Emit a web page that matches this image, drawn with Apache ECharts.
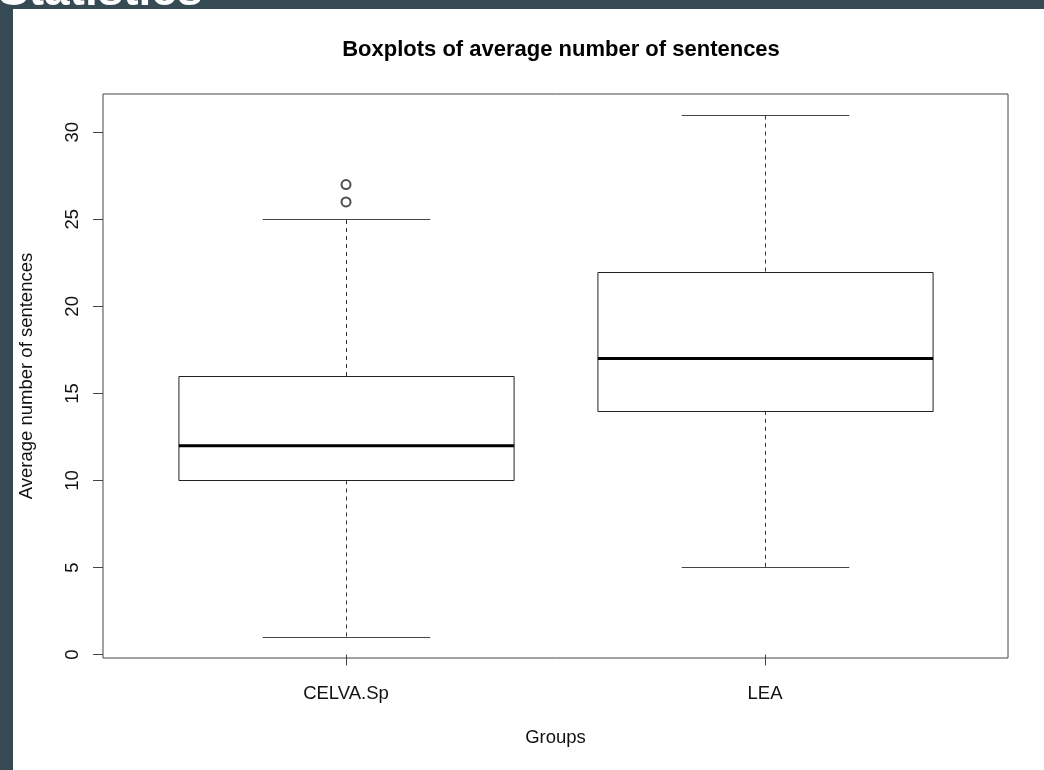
<!DOCTYPE html>
<html>
<head>
<meta charset="utf-8">
<script src="https://cdn.jsdelivr.net/npm/echarts@6/dist/echarts.min.js"></script>
<style>
html,body{margin:0;padding:0;background:#fff;}
#chart{width:1044px;height:770px;}
</style>
</head>
<body>
<div id="chart"></div>
<script>
// ---- data ----
const categories = ['CELVA.Sp', 'LEA'];
const positions = [1, 2];
const mins = [1, 5];
const q1s = [10, 14];
const medians = [12, 17];
const q3s = [16, 22];
const maxs = [25, 31];
const outlierGroup = [1, 1];
const outlierValues = [26, 27];
const yTicks = [0, 5, 10, 15, 20, 25, 30];

const boxData = positions.map((p, i) => [p, mins[i], q1s[i], medians[i], q3s[i], maxs[i]]);
const outlierData = outlierValues.map((v, i) => [outlierGroup[i], v]);

const FONT = '"Liberation Sans", Arial, Helvetica, sans-serif';
const chart = echarts.init(document.getElementById('chart'), null, {renderer: 'canvas'});

function renderBox(params, api) {
  const x = api.value(0);
  const mn = api.value(1), q1 = api.value(2), md = api.value(3), q3 = api.value(4), mx = api.value(5);
  const c = v => api.coord([x, v]);
  const halfBox = api.size([0.4, 0])[0];
  const halfCap = api.size([0.2, 0])[0];
  const pMn = c(mn), pQ1 = c(q1), pMd = c(md), pQ3 = c(q3), pMx = c(mx);
  const cx = Math.round(pMn[0]) + 0.5;
  const line = (x1, y1, x2, y2, w, dash, col) => ({
    type: 'line',
    shape: {x1: x1, y1: y1, x2: x2, y2: y2},
    style: {stroke: col || '#222', lineWidth: w, lineDash: dash || null, fill: null}
  });
  return {
    type: 'group',
    children: [
      line(cx, pQ3[1], cx, pMx[1], 1, [4, 4], '#333'),
      line(cx, pQ1[1], cx, pMn[1], 1, [4, 4], '#333'),
      line(cx - halfCap, Math.round(pMx[1]) + 0.5, cx + halfCap, Math.round(pMx[1]) + 0.5, 1, null, '#444'),
      line(cx - halfCap, Math.round(pMn[1]) + 0.5, cx + halfCap, Math.round(pMn[1]) + 0.5, 1, null, '#444'),
      {
        type: 'rect',
        shape: {x: cx - halfBox, y: Math.round(pQ3[1]) + 0.5, width: 2 * halfBox, height: Math.round(pQ1[1]) - Math.round(pQ3[1])},
        style: {stroke: '#222', lineWidth: 1, fill: '#fff'}
      },
      line(cx - halfBox, pMd[1], cx + halfBox, pMd[1], 3, null, '#000')
    ]
  };
}

const option = {
  animation: false,
  backgroundColor: '#fff',
  textStyle: {fontFamily: FONT},
  title: {
    text: 'Boxplots of average number of sentences',
    left: 556,
    textAlign: 'center',
    top: 34,
    textStyle: {fontFamily: FONT, fontSize: 22, fontWeight: 'bold', color: '#000'}
  },
  grid: {
    left: 103, top: 94, right: 36, bottom: 112,
    show: true, borderColor: '#444', borderWidth: 1, backgroundColor: '#fff'
  },
  xAxis: {
    type: 'value',
    min: 0.42, max: 2.58,
    name: 'Groups',
    nameLocation: 'middle',
    nameGap: 70,
    nameTextStyle: {fontFamily: FONT, fontSize: 18.5, color: '#111'},
    axisLine: {show: false},
    splitLine: {show: false},
    axisTick: {show: true, inside: false, length: 11, customValues: positions, lineStyle: {color: '#444'}},
    axisLabel: {
      customValues: positions,
      margin: 26,
      fontFamily: FONT, fontSize: 18.5, color: '#111',
      formatter: v => categories[positions.indexOf(Math.round(v))] || ''
    }
  },
  yAxis: {
    type: 'value',
    min: -0.2, max: 32.2,
    name: 'Average number of sentences',
    nameLocation: 'middle',
    nameGap: 67,
    nameTextStyle: {fontFamily: FONT, fontSize: 18.5, color: '#111'},
    axisLine: {show: false},
    splitLine: {show: false},
    axisTick: {show: true, inside: false, length: 10, customValues: yTicks, lineStyle: {color: '#444'}},
    axisLabel: {
      customValues: yTicks,
      rotate: 90,
      margin: 21,
      fontFamily: FONT, fontSize: 18.5, color: '#111'
    }
  },
  series: [
    {
      type: 'custom',
      renderItem: renderBox,
      data: boxData,
      encode: {x: 0, y: [1, 2, 3, 4, 5]},
      z: 3
    },
    {
      type: 'scatter',
      data: outlierData,
      symbol: 'emptyCircle',
      symbolSize: 9,
      itemStyle: {color: '#222', borderColor: '#222', borderWidth: 1},
      z: 4
    }
  ],
  graphic: [
    {type: 'rect', shape: {x: 0, y: 0, width: 13, height: 770}, style: {fill: '#364a53'}, z: 100},
    {type: 'rect', shape: {x: 0, y: 0, width: 1044, height: 9}, style: {fill: '#364a53'}, z: 100},
    {type: 'text', x: -2, y: 15, style: {text: 'Statistics', fill: '#fff', fontSize: 46, fontWeight: 'bold', fontFamily: 'Liberation Sans', verticalAlign: 'bottom'}, z: 101}
  ]
};
chart.setOption(option);
</script>
</body>
</html>
